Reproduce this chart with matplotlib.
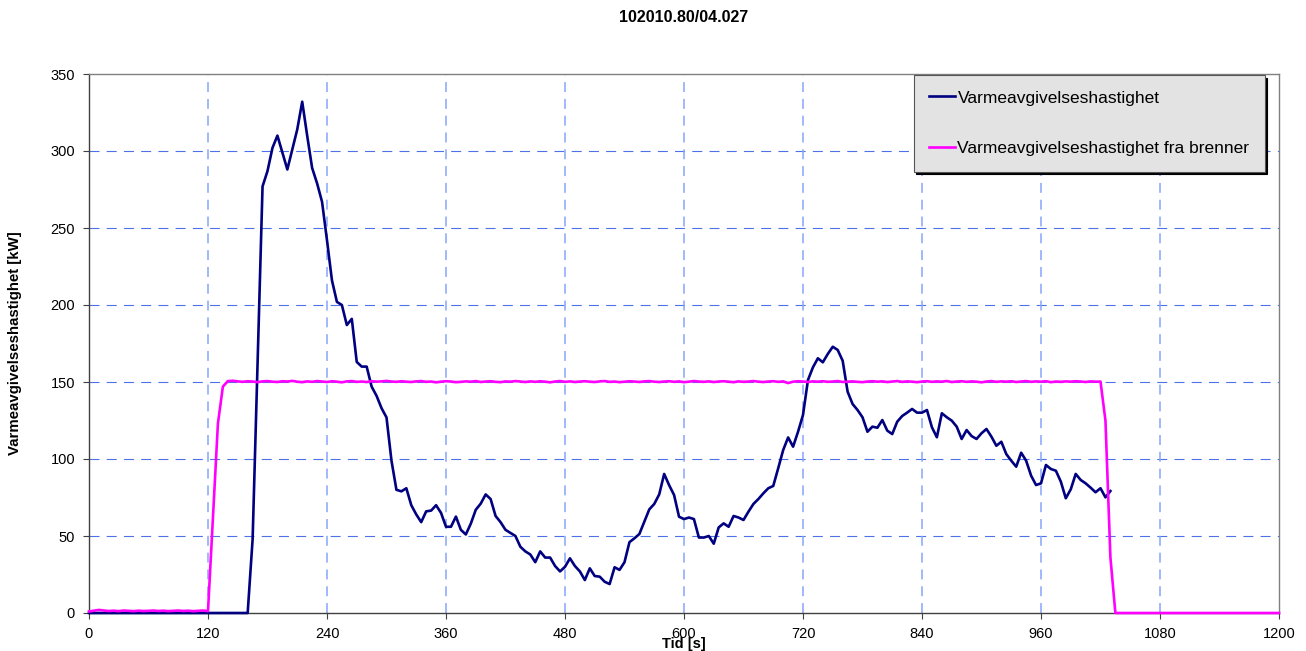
import numpy as np
import matplotlib
matplotlib.use("Agg")
import matplotlib.pyplot as plt

plt.rcParams["font.family"] = ["Liberation Sans", "DejaVu Sans"]

title = "102010.80/04.027"
x_label = "Tid [s]"
y_label = "Varmeavgivelseshastighet [kW]"
series_names = ["Varmeavgivelseshastighet", "Varmeavgivelseshastighet fra brenner"]

x_ticks = [0, 120, 240, 360, 480, 600, 720, 840, 960, 1080, 1200]
y_ticks = [0, 50, 100, 150, 200, 250, 300, 350]

# sampling every 5 s
time_hrr = np.arange(0, 1031, 5)
time_burner = np.arange(0, 1201, 5)

# measured heat release rate [kW], 0 - 1030 s
hrr = [
    0, 0, 0, 0, 0, 0, 0, 0, 0, 0, 0, 0, 0, 0, 0, 0, 0,
    0, 0, 0, 0, 0, 0, 0, 0, 0, 0, 0, 0, 0, 0, 0, 0,
    48, 163, 277, 287, 302, 310, 299, 288, 301, 314, 332, 310,
    289, 279, 267, 242, 216, 202, 200, 187, 191, 163, 160, 160,
    147, 141, 133, 127, 99, 80, 79, 81, 70, 64, 59, 66,
    66.5, 70, 65, 56, 56, 62.6, 54, 51, 58, 67, 71, 77,
    74, 63, 59, 54, 52, 50, 43, 40, 38, 33, 40, 36,
    36, 30.5, 27, 30, 35.5, 30.5, 27, 21.4, 29, 24, 23.6, 20.3,
    18.8, 29.7, 28, 33, 46, 48.5, 51.3, 59.3, 67.3, 70.8, 77, 90.3,
    83, 76.6, 62.5, 61, 62, 61, 49, 49, 50, 45, 55.6, 58.2,
    56, 63, 62, 60.4, 65.8, 70.8, 74, 77.7, 81, 82.5, 94, 105.8,
    114, 108, 117.7, 128.6, 151.3, 159.5, 165.4, 162.8, 168.2, 172.9, 170.8, 163.8,
    143.7, 135.7, 131.8, 127.1, 117.7, 121, 120.3, 125.3, 118.4, 116.2, 124.2, 127.9,
    130.1, 132.5, 130.1, 130.1, 131.8, 120.6, 114.1, 129.7, 127.1, 124.9, 121, 113,
    118.8, 114.9, 113, 116.7, 119.5, 114.5, 108.6, 111.2, 103.2, 98.9, 95, 104.1,
    98.9, 89.2, 83.1, 84.2, 96.1, 93.5, 92.4, 85.3, 74.5, 80.3, 90.3, 86.4,
    84.2, 81.4, 78.4, 81, 75.1, 79.2,
]

# burner heat release rate [kW], 0 - 1200 s
burner = [
    1.0, 1.5, 2.0, 1.6, 1.3, 1.5, 1.2, 1.6, 1.4, 1.2, 1.5, 1.3,
    1.4, 1.6, 1.3, 1.5, 1.2, 1.4, 1.6, 1.3, 1.5, 1.2, 1.4, 1.6, 1.2,
    62, 123, 147,
    150.6, 150.8, 150.4, 150.1, 150.5, 150.3, 149.9, 150.4, 150.6, 150.2, 150.0, 150.5,
    150.3, 150.7, 150.2, 149.9, 150.4, 150.1, 150.6, 150.3, 150.0, 150.5, 150.2, 149.8,
    150.4, 150.6, 150.1, 150.3, 150.0, 150.5, 150.2, 150.4, 150.7, 150.3, 150.1, 150.5,
    150.2, 150.0, 150.4, 150.6, 150.1, 150.3, 149.8, 150.2, 150.5, 150.3, 149.9, 150.1,
    150.4, 150.2, 150.6, 150.0, 150.3, 150.5, 150.1, 149.9, 150.4, 150.2, 150.6, 150.3,
    150.0, 150.4, 150.1, 150.5, 150.2, 149.8, 150.3, 150.6, 150.1, 150.4, 150.0, 150.3,
    150.5, 150.2, 150.0, 150.4, 150.6, 150.1, 150.3, 149.9, 150.2, 150.5, 150.3, 150.0,
    150.4, 150.6, 150.2, 150.0, 150.3, 150.5, 150.1, 150.4, 149.9, 150.2, 150.6, 150.3,
    150.1, 150.4, 150.0, 150.3, 150.5, 150.2, 149.9, 150.4, 150.1, 150.3, 150.6, 150.2,
    150.0, 150.3, 150.5, 150.1, 150.4, 149.3, 150.2, 150.5, 150.3, 150.0, 150.4, 150.2,
    150.5, 150.1, 150.3, 150.6, 150.0, 150.2, 150.4, 150.1, 149.9, 150.3, 150.5, 150.2,
    150.4, 150.0, 150.3, 150.6, 150.1, 150.4, 150.2, 149.9, 150.3, 150.5, 150.1, 150.4,
    150.2, 150.6, 150.0, 150.3, 150.5, 150.1, 150.4, 150.2, 149.8, 150.3, 150.6, 150.1,
    150.4, 150.2, 150.5, 150.0, 150.3, 150.6, 150.1, 150.4, 150.2, 150.5, 149.9, 150.3,
    150.1, 150.4, 150.2, 150.5, 150.3, 150.0, 150.4, 150.2, 150.3,
    125, 36,
    0, 0, 0, 0, 0, 0, 0, 0, 0, 0, 0, 0, 0, 0, 0, 0, 0,
    0, 0, 0, 0, 0, 0, 0, 0, 0, 0, 0, 0, 0, 0, 0, 0, 0,
]

W, H = 1306, 651
fig = plt.figure(figsize=(W / 100, H / 100), dpi=100)
ax = fig.add_axes([89 / W, 38 / H, 1190 / W, 539 / H])

ax.set_xlim(0, 1200)
ax.set_ylim(0, 350)
ax.set_xticks(x_ticks)
ax.set_yticks(y_ticks)

# dashed grid
for yv in y_ticks[1:-1]:
    ax.axhline(yv, color="#4d72e8", lw=0.8, ls=(0, (9, 6.5)), zorder=1)
for xv in x_ticks[1:-1]:
    ax.axvline(xv, color="#86a5fb", lw=1.1, ls=(0, (6.5, 4.5)), zorder=1)

ax.plot(time_hrr, hrr, color="#000080", lw=1.9, label=series_names[0],
        zorder=3, clip_on=False, solid_joinstyle="round")
ax.plot(time_burner, burner, color="#ff00ff", lw=1.9, label=series_names[1],
        zorder=4, clip_on=False, solid_joinstyle="round")

for side in ("left", "bottom"):
    ax.spines[side].set_color("#404040")
    ax.spines[side].set_linewidth(1.0)
for side in ("top", "right"):
    ax.spines[side].set_color("#808080")
    ax.spines[side].set_linewidth(1.0)

ax.tick_params(axis="both", direction="out", length=4, width=0.8,
               color="#404040", labelsize=10.5)
ax.tick_params(axis="x", pad=6)
ax.tick_params(axis="y", pad=6)

ax.set_xlabel(x_label, fontsize=10.5, fontweight="bold")
ax.xaxis.set_label_coords(0.5, -0.045)
fig.text(15 / W, 1 - 343 / H, y_label, rotation=90, fontsize=10.8,
         fontweight="bold", ha="center", va="center")
fig.text(684 / W, 1 - 18 / H, title, fontsize=11.5, fontweight="bold",
         ha="center", va="center")

leg = ax.legend(loc="upper right", bbox_to_anchor=(0.988, 0.998),
                borderaxespad=0, fancybox=False,
                shadow={"color": "black", "alpha": 1},
                facecolor="#e3e3e3", edgecolor="#555555", framealpha=1,
                fontsize=12.5, labelspacing=2.05, handlelength=1.5,
                handletextpad=0.15, borderpad=0.88)
leg.get_frame().set_linewidth(0.8)

fig.savefig("out.png", dpi=100)
